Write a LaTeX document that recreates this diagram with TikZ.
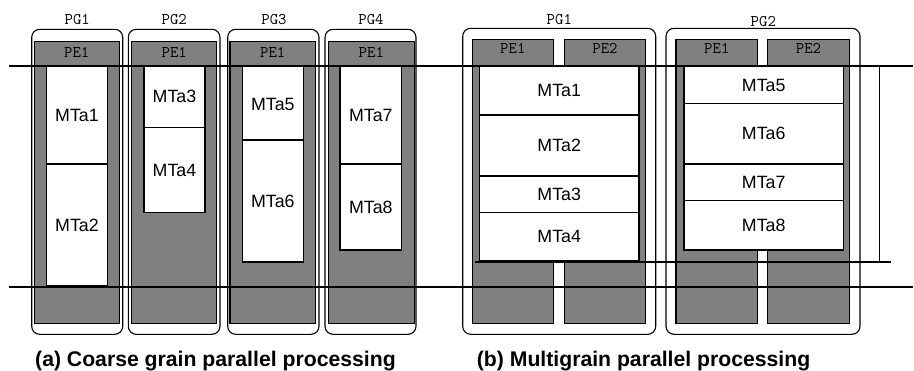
\documentclass[tikz,border=0pt]{standalone}
\usepackage{fontspec}
\setmainfont{Liberation Sans}
\definecolor{pegray}{HTML}{808080}
\begin{document}
\begin{tikzpicture}[x=1pt,y=-1pt,
  grp/.style={draw=black,line width=1.1pt,rounded corners=8pt},
  pebox/.style={draw=black,fill=pegray,line width=1.1pt},
  task/.style={draw=black,fill=white,line width=1.2pt},
  tlabel/.style={inner sep=0pt,font=\fontsize{17.8}{20}\selectfont},
  plabel/.style={inner sep=0pt,font=\ttfamily\fontsize{16.3}{18}\selectfont},
  refline/.style={draw=black,line width=1.6pt},
  caption/.style={inner sep=0pt,anchor=base west,font=\bfseries\fontsize{21.2}{25}\selectfont}]
\useasboundingbox (0,0) rectangle (914,370);
% ---------------- (a) coarse grain ----------------
% group outlines
\draw[grp] (31.7,29.3) rectangle (122.7,334.3);
\draw[grp] (128.3,29.3) rectangle (220,334.3);
\draw[grp] (227.7,29.3) rectangle (319,334.3);
\draw[grp] (325,29.3) rectangle (416,334.3);
% PE boxes
\draw[pebox] (34.3,41.7) rectangle (119.3,323.3);
\draw[pebox] (131.7,41.7) rectangle (216.7,323.3);
\draw[pebox] (230,41.7) rectangle (315.7,323.3);
\draw[pebox] (328.3,41.7) rectangle (414.3,323.3);
% tasks
\draw[task] (46.7,66) rectangle (107.3,164);
\draw[task] (46.7,164) rectangle (107.3,286);
\draw[task] (144,66) rectangle (205,127.3);
\draw[task] (144,127.3) rectangle (205,212.7);
\draw[task] (242.3,66) rectangle (303.3,140);
\draw[task] (242.3,140) rectangle (303.3,262);
\draw[task] (340,66) rectangle (401.7,164);
\draw[task] (340,164) rectangle (401.7,250);
% labels
\node[plabel] (apg1) at (77.3,20) {PG1};
\node[plabel] (apg2) at (174.3,20) {PG2};
\node[plabel] (apg3) at (274,20) {PG3};
\node[plabel] (apg4) at (371,20) {PG4};
\node[plabel] (ape1) at (76.8,52) {PE1};
\node[plabel] (ape2) at (174.2,52) {PE1};
\node[plabel] (ape3) at (272.8,52) {PE1};
\node[plabel] (ape4) at (371.3,52) {PE1};
\node[tlabel] (amta1) at (77,115) {MTa1};
\node[tlabel] (amta2) at (77,225) {MTa2};
\node[tlabel] (amta3) at (174.5,96.7) {MTa3};
\node[tlabel] (amta4) at (174.5,170) {MTa4};
\node[tlabel] (amta5) at (272.8,104) {MTa5};
\node[tlabel] (amta6) at (272.8,201) {MTa6};
\node[tlabel] (amta7) at (370.8,115) {MTa7};
\node[tlabel] (amta8) at (370.8,207) {MTa8};
% ---------------- (b) multigrain ----------------
\draw[grp] (462.7,28.3) rectangle (655.7,334.3);
\draw[grp] (666,28.3) rectangle (860,334.3);
\draw[pebox] (472.3,39.3) rectangle (553.3,323.8);
\draw[pebox] (564.3,39.3) rectangle (645.7,323.8);
\draw[pebox] (676,39.3) rectangle (757.7,323.8);
\draw[pebox] (767.7,39.3) rectangle (849.3,323.8);
\draw[task] (479.3,66) rectangle (639,115);
\draw[task] (479.3,115) rectangle (639,176);
\draw[task] (479.3,176) rectangle (639,212.3);
\draw[task] (479.3,212.3) rectangle (639,261);
\draw[task] (684,66) rectangle (843.3,103.3);
\draw[task] (684,103.3) rectangle (843.3,164);
\draw[task] (684,164) rectangle (843.3,200.7);
\draw[task] (684,200.7) rectangle (843.3,250);
\node[plabel] (bpg1) at (559.3,20) {PG1};
\node[plabel] (bpg2) at (763.3,21.7) {PG2};
\node[plabel] (bpe11) at (512.8,48) {PE1};
\node[plabel] (bpe12) at (605,48) {PE2};
\node[plabel] (bpe21) at (716.8,48) {PE1};
\node[plabel] (bpe22) at (808.5,48) {PE2};
\node[tlabel] (bmta1) at (559.2,90.5) {MTa1};
\node[tlabel] (bmta2) at (559.2,145.5) {MTa2};
\node[tlabel] (bmta3) at (559.2,194.2) {MTa3};
\node[tlabel] (bmta4) at (559.2,236.7) {MTa4};
\node[tlabel] (bmta5) at (763.7,85) {MTa5};
\node[tlabel] (bmta6) at (763.7,133.7) {MTa6};
\node[tlabel] (bmta7) at (763.7,182.3) {MTa7};
\node[tlabel] (bmta8) at (763.7,225.5) {MTa8};
% ---------------- reference lines ----------------
\coordinate (tl) at (9.3,66);
\coordinate (tr) at (913,66);
\coordinate (bl) at (9.3,286.7);
\coordinate (br) at (913,286.7);
\coordinate (ml) at (475,262);
\coordinate (mr) at (891,262);
\coordinate (vt) at (879.3,66);
\coordinate (vb) at (879.3,262);
\draw[refline] (tl) -- (tr);
\draw[refline] (bl) -- (br);
\draw[line width=1.3pt] (ml) -- (mr);
\draw[line width=1.3pt] (vt) -- (vb);
% captions
\node[caption] (capa) at (35,366) {(a) Coarse grain parallel processing};
\node[caption] (capb) at (476.7,366) {(b) Multigrain parallel processing};
\end{tikzpicture}
\end{document}
